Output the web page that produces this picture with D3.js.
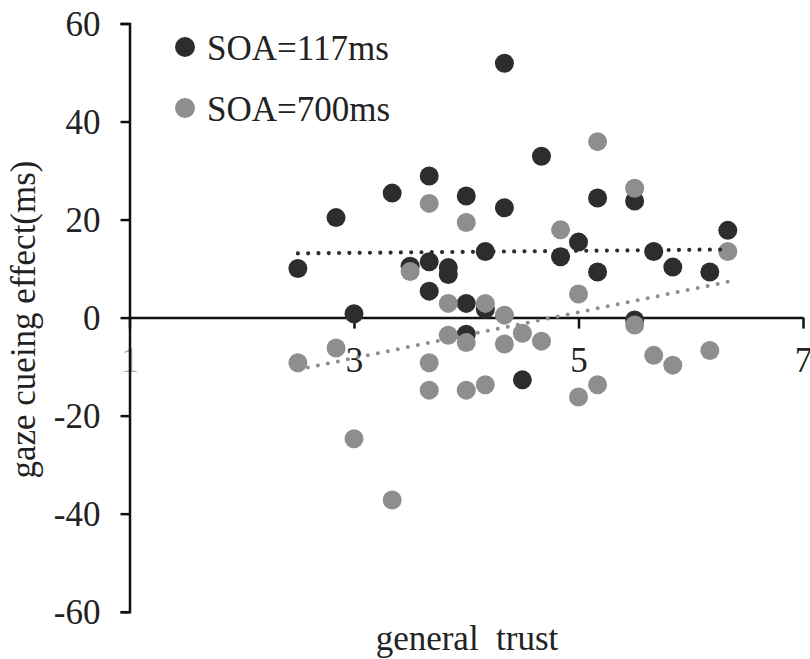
<!DOCTYPE html>
<html>
<head>
<meta charset="utf-8">
<script src="https://cdn.jsdelivr.net/npm/d3@7"></script>
<style>
  body { margin: 0; background: #fff; }
  svg text { font-family: "Liberation Serif", "Times New Roman", serif; fill: #222; }
</style>
</head>
<body>
<div id="chart"></div>
<script>
// general trust vs gaze cueing effect
var trust117 = [2.5, 2.84, 3.0, 3.34, 3.5, 3.67, 3.67, 3.67, 3.84, 3.84, 4.0, 4.0, 4.0, 4.17, 4.17,
                4.34, 4.34, 4.5, 4.67, 4.84, 5.0, 5.17, 5.17, 5.5, 5.5, 5.67, 5.84, 6.17, 6.33];
var effect117 = [10, 20.4, 0.8, 25.4, 10.5, 28.9, 11.4, 5.4, 10.2, 8.8, 24.8, 2.9, -3.4, 13.5, 1.7,
                 51.9, 22.4, -12.7, 32.9, 12.4, 15.4, 24.4, 9.3, 23.8, -0.5, 13.5, 10.3, 9.3, 17.8];

var trust700 = [2.5, 2.84, 3.0, 3.34, 3.5, 3.67, 3.67, 3.67, 3.84, 3.84, 4.0, 4.0, 4.0, 4.17, 4.17,
                4.34, 4.34, 4.5, 4.67, 4.84, 5.0, 5.0, 5.17, 5.17, 5.5, 5.5, 5.67, 5.84, 6.17, 6.33];
var effect700 = [-9.2, -6.2, -24.7, -37.2, 9.4, 23.3, -9.2, -14.8, 2.9, -3.6, 19.4, -5.1, -14.8, 2.9, -13.7,
                 0.5, -5.4, -3.2, -4.8, 17.9, 4.8, -16.2, 35.9, -13.7, 26.4, -1.5, -7.7, -9.7, -6.7, 13.5];

// linear trend lines (end points)
var trend117 = [[2.5, 13.1], [6.33, 13.9]];
var trend700 = [[2.5, -10.6], [6.33, 7.3]];

var xTicks = [1, 3, 5, 7];
var yTicks = [-60, -40, -20, 0, 20, 40, 60];
var seriesNames = ["SOA=117ms", "SOA=700ms"];

var dark = "#2d2d2d", grey = "#8e8e8e";

var svg = d3.select("#chart").append("svg")
    .attr("width", 810)
    .attr("height", 659);

var x = d3.scaleLinear().domain([1, 7]).range([129.5, 803]);
var y = d3.scaleLinear().domain([-60, 60]).range([611.7, 23.5]);

// x axis on y = 0
var xAxisEl = svg.append("g")
    .attr("transform", "translate(0," + y(0) + ")")
    .call(d3.axisBottom(x).tickValues(xTicks).tickSize(11).tickSizeOuter(0)
      .tickPadding(19).tickFormat(function (d) { return String(d); }));
xAxisEl.selectAll(".tick text").style("font-size", "35px");
xAxisEl.selectAll(".tick text").filter(function (d) { return d === 1; }).style("fill", "#aaa");

// y axis
var yAxisEl = svg.append("g")
    .attr("transform", "translate(" + x(1) + ",0)")
    .call(d3.axisLeft(y).tickValues(yTicks).tickSize(9).tickSizeOuter(9)
      .tickPadding(20).tickFormat(function (d) { return String(d); }));
yAxisEl.selectAll(".tick text").style("font-size", "35px").attr("dy", "0.33em");

svg.selectAll(".domain, .tick line").attr("stroke", "#111").attr("stroke-width", 2.5);
svg.selectAll(".tick text").attr("fill", "#222").style("font-family", "'Liberation Serif', serif");

function toPoints(xs, ys) {
  return xs.map(function (d, i) { return { x: d, y: ys[i] }; });
}

// dots
svg.append("g").selectAll("circle")
    .data(toPoints(trust117, effect117))
    .enter().append("circle")
    .attr("cx", function (d) { return x(d.x); })
    .attr("cy", function (d) { return y(d.y); })
    .attr("r", 9.5)
    .attr("fill", dark);

svg.append("g").selectAll("circle")
    .data(toPoints(trust700, effect700))
    .enter().append("circle")
    .attr("cx", function (d) { return x(d.x); })
    .attr("cy", function (d) { return y(d.y); })
    .attr("r", 9.5)
    .attr("fill", grey);

// dotted trend lines
var line = d3.line().x(function (d) { return x(d[0]); }).y(function (d) { return y(d[1]); });

svg.append("path").datum(trend117)
    .attr("d", line)
    .attr("fill", "none")
    .attr("stroke", dark)
    .attr("stroke-width", 4.2)
    .attr("stroke-linecap", "round")
    .attr("stroke-dasharray", "0 10.3");

svg.append("path").datum(trend700)
    .attr("d", line)
    .attr("fill", "none")
    .attr("stroke", grey)
    .attr("stroke-width", 4)
    .attr("stroke-linecap", "round")
    .attr("stroke-dasharray", "0 10.2");

// legend
var legend = svg.append("g");
[dark, grey].forEach(function (c, i) {
  var by = 60 + i * 61;
  legend.append("circle").attr("cx", 185).attr("cy", by - 13).attr("r", 10).attr("fill", c);
  legend.append("text").attr("x", 207).attr("y", by)
    .style("font-size", "35px").text(seriesNames[i]);
});

// axis titles
svg.append("text")
    .attr("transform", "translate(35,319.5) rotate(-90)")
    .attr("text-anchor", "middle")
    .style("font-size", "35px")
    .text("gaze cueing effect(ms)");

svg.append("text")
    .attr("x", 467).attr("y", 650)
    .attr("text-anchor", "middle")
    .style("font-size", "35px")
    .style("white-space", "pre")
    .text("general  trust");
</script>
</body>
</html>
